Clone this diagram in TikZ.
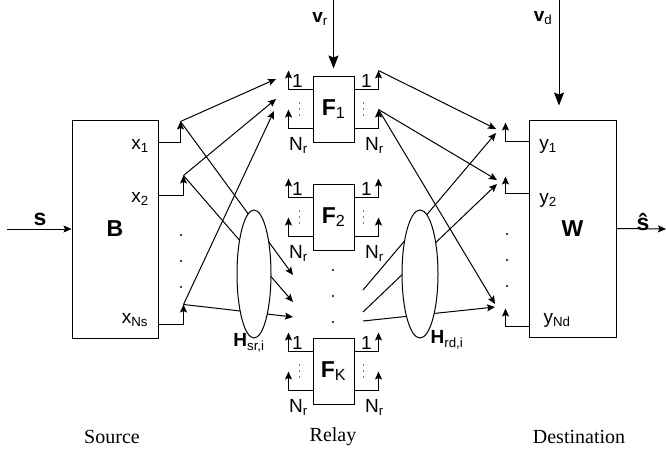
\documentclass[tikz,border=0pt]{standalone}
\usepackage{fontspec}
\setmainfont{Liberation Sans}
\newfontfamily\captionserif{Liberation Serif}
\usetikzlibrary{arrows.meta,shapes.geometric}

\tikzset{
  blk/.style={draw, inner sep=0pt},
  lbl/.style={inner sep=0pt, font=\fontsize{19}{19}\selectfont},
  bold/.style={inner sep=0pt, font=\fontsize{23}{23}\selectfont\bfseries},
  captxt/.style={inner sep=0pt, font=\fontsize{20}{20}\selectfont\captionserif},
  tip/.style={-{Stealth[length=8pt,width=7pt,inset=1.5pt]}},
  bigtip/.style={-{Stealth[length=13pt,width=10pt,inset=2pt]}},
  chan/.style={ellipse, draw, fill=white, inner sep=0pt, minimum width=34, minimum height=128}
}

\begin{document}
\begin{tikzpicture}[x=1pt,y=-1pt,line width=1pt]
\useasboundingbox (0,0) rectangle (666,455);

% source
\node[blk, bold, minimum width=86, minimum height=218] (B) at (115,229) {B};
\coordinate (src) at (7,229);
\draw[tip] (src) -- (B.west);
\node[bold] at (40,219) {s};
\draw[tip] ([yshift=-23pt]B.north east) -| ++(22,-21) coordinate (x1);
\draw[tip] ([yshift=-76pt]B.north east) -| ++(25,-20) coordinate (x2);
\draw[tip] ([yshift=14pt]B.south east) -| ++(25,-20) coordinate (xN);
\node[lbl] at (140,146) {x\textsubscript{1}};
\node[lbl] at (140,199) {x\textsubscript{2}};
\node[lbl] at (135,320) {x\textsubscript{Ns}};
\foreach \y in {235,261,287} \fill (181,\y) circle (1.1pt);

% relay
\foreach \k/\y in {1/109,2/217,K/371}{
  \node[blk, bold, minimum width=41, minimum height=66] (F\k) at (333.5,\y)
    {F\textsubscript{\normalfont\k}};
  \draw[tip] ([yshift=-14pt]F\k.north west) -| ++(-24,-19) coordinate (F\k-l1);
  \draw[tip] ([yshift=14pt]F\k.south west) -| ++(-24,-19) coordinate (F\k-l2);
  \draw[tip] ([yshift=-14pt]F\k.north east) -| ++(24,-19) coordinate (F\k-r1);
  \draw[tip] ([yshift=14pt]F\k.south east) -| ++(24,-19) coordinate (F\k-r2);
  \node[lbl] at ([xshift=-15pt,yshift=-5pt]F\k.north west) {1};
  \node[lbl] at ([xshift=12pt,yshift=-5pt]F\k.north east) {1};
  \node[lbl] at ([xshift=-14pt,yshift=-3pt]F\k.south west) {N\textsubscript{r}};
  \node[lbl] at ([xshift=20pt,yshift=-3pt]F\k.south east) {N\textsubscript{r}};
  \foreach \d in {-6,0,6}{
    \fill ([xshift=-13pt,yshift=\d pt]F\k.west) circle (0.6pt);
    \fill ([xshift=9pt,yshift=\d pt]F\k.east) circle (0.6pt);
  }
}
\foreach \y in {270,296,322} \fill (333,\y) circle (1.1pt);
\coordinate (vr) at (333.5,0);
\draw[bigtip, shorten >=7pt] (vr) -- (F1.north);
\node[lbl] at (320,19) {\textbf{v}\textsubscript{r}};

% destination
\node[blk, bold, minimum width=87, minimum height=217] (W) at (572.5,228.5) {W};
\draw[tip] ([yshift=-22pt]W.north west) -| ++(-23,-19) coordinate (y1);
\draw[tip] ([yshift=-74pt]W.north west) -| ++(-23,-17) coordinate (y2);
\draw[tip] ([yshift=11pt]W.south west) -| ++(-23,-18) coordinate (yN);
\node[lbl] at (548,146) {y\textsubscript{1}};
\node[lbl] at (548,200) {y\textsubscript{2}};
\node[lbl] at (557,320) {y\textsubscript{Nd}};
\foreach \y in {234,260,286} \fill (507,\y) circle (1.1pt);
\coordinate (vd) at (559,0);
\draw[bigtip, shorten >=14pt] (vd) -- (vd |- W.north);
\node[lbl] at (543,18) {\textbf{v}\textsubscript{d}};
\coordinate (out) at (666,229);
\draw[tip] (W.east) -- (out);
\node[bold] at (643,222) {\^{s}};

% source -> relay
\coordinate (a1) at (276,79);
\coordinate (a2) at (276,99);
\coordinate (a3) at (274,111);
\coordinate (m1) at (293,275);
\coordinate (m2) at (293,302);
\coordinate (m3) at (293,317);
\draw[tip] (x1) -- (a1);
\draw[tip] (x2) -- (a2);
\draw[tip] (xN) -- (a3);
\draw[tip] (x1) -- (m1);
\draw[tip] (x2) -- (m2);
\draw[tip] (xN) -- (m3);

% relay -> destination
\coordinate (n1) at (363,290);
\coordinate (n2) at (363,312);
\coordinate (n3) at (363,321);
\coordinate (b1) at (496,129);
\coordinate (b2) at (496,133);
\coordinate (b3) at (497,180);
\coordinate (b4) at (497,184);
\coordinate (b5) at (495,304);
\coordinate (b6) at (495,307);
\draw[tip] (F1-r1) -- (b1);
\draw[tip] (F1-r2) -- (b3);
\draw[tip] (F1-r2) -- (b5);
\draw[tip] (n1) -- (b2);
\draw[tip] (n2) -- (b4);
\draw[tip] (n3) -- (b6);

% channels
\node[chan] (Hsr) at (254,274) {};
\node[chan, minimum width=36] (Hrd) at (420,274) {};
\node[lbl] at (249,343) {\textbf{H}\textsubscript{sr,i}};
\node[lbl] at (447,340) {\textbf{H}\textsubscript{rd,i}};

% captions
\node[captxt] at (112,437) {Source};
\node[captxt] at (333,437) {Relay};
\node[captxt] at (579,437) {Destination};
\end{tikzpicture}
\end{document}
